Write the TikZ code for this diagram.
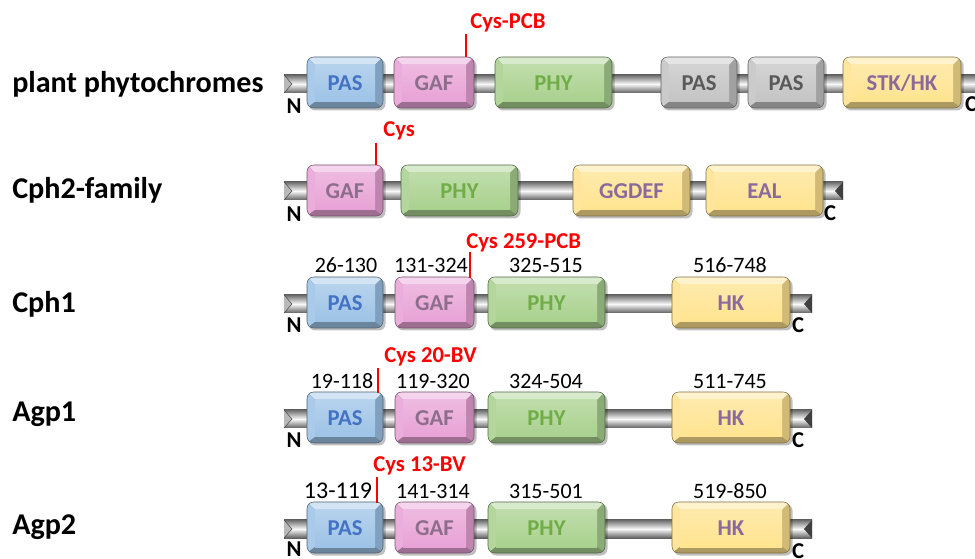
\documentclass[tikz,border=0pt]{standalone}
\usepackage{fontspec}
\setmainfont{Carlito}
\usetikzlibrary{calc}
\definecolor{pasblue}{HTML}{9DC3E6}
\definecolor{pastxt}{HTML}{4472C4}
\definecolor{gafpink}{HTML}{E8A2D6}
\definecolor{gaftxt}{HTML}{8C6E8C}
\definecolor{phygreen}{HTML}{A9D18E}
\definecolor{phytxt}{HTML}{70AD47}
\definecolor{pasgray}{HTML}{C4C4C4}
\definecolor{graytxt}{HTML}{595959}
\definecolor{hkyellow}{HTML}{FFE38F}
\definecolor{hktxt}{HTML}{8A6A9C}
\definecolor{cysred}{HTML}{FF0000}
\tikzset{
  domtext/.style={font=\bfseries\fontsize{17}{19}\selectfont, inner sep=0pt},
  rowlabel/.style={font=\bfseries\fontsize{22.6}{24}\selectfont, anchor=west, inner sep=0pt},
  numlabel/.style={font=\fontsize{16.5}{18}\selectfont, inner sep=0pt},
  cyslabel/.style={font=\bfseries\fontsize{17}{19}\selectfont, text=cysred, anchor=west, inner sep=0pt},
  endlabel/.style={font=\bfseries\fontsize{17}{19}\selectfont, inner sep=0pt},
  redline/.style={draw=cysred, line width=1.8pt}
}
% #1 name, #2 x1, #3 x2, #4 ytop, #5 colour, #6 text colour, #7 label
\newcommand\dom[7]{%
  \fill[black,opacity=0.25,rounded corners=5pt] (#2+1.5,#4+2) rectangle (#3+2.5,#4+53.5);
  \begin{scope}
    \clip[rounded corners=5pt] (#2,#4) rectangle (#3,#4+51);
    \fill[#5!62!black] (#2,#4) rectangle (#3,#4+51);
    \fill[#5!45!white] (#2,#4) -- (#3,#4) -- (#3-8,#4+8) -- (#2+8,#4+8) -- cycle;
    \fill[#5!88!white] (#2,#4) -- (#2+8,#4+8) -- (#2+8,#4+45) -- (#2,#4+51) -- cycle;
    \fill[#5!82!black] (#3,#4) -- (#3-8,#4+8) -- (#3-8,#4+45) -- (#3,#4+51) -- cycle;
    \fill[#5!68!black] (#2,#4+51) -- (#2+8,#4+45) -- (#3-8,#4+45) -- (#3,#4+51) -- cycle;
    \shade[top color=#5!75!white, bottom color=#5] (#2+8,#4+8) rectangle (#3-8,#4+45);
  \end{scope}
  \draw[#5!50!black, line width=0.4pt, rounded corners=5pt] (#2,#4) rectangle (#3,#4+51);
  \node[domtext, text=#6] (#1) at ({(#2+#3)/2},#4+26.5) {#7};
}
% #1 x0, #2 x1, #3 ycentre
\newcommand\chainbar[3]{%
  \shade[top color=gray!85!black, bottom color=gray!75!black, middle color=gray!5] (#1,#3-9) rectangle (#2,#3+9);
  \fill[gray!55] (#1,#3-9) -- (#1+8,#3) -- (#1,#3+9) -- cycle;
  \draw[gray!40!black, line width=0.3pt] (#1,#3-9) -- (#1+8,#3) -- (#1,#3+9);
  \fill[gray!50!black] (#2,#3-9) -- (#2-8,#3) -- (#2,#3+9) -- cycle;
}
\begin{document}
\begin{tikzpicture}[x=0.75pt,y=-0.75pt]
\useasboundingbox (0,0) rectangle (975,559);
\clip (0,0) rectangle (975,559);
\fill[white] (0,0) rectangle (975,559);

% ---------- row 1: plant phytochromes ----------
\node[rowlabel] (lab1) at (12,84) {plant phytochromes};
\chainbar{284}{990}{84}
\dom{r1pas}{307}{383}{57}{pasblue}{pastxt}{PAS}
\dom{r1gaf}{394}{474}{57}{gafpink}{gaftxt}{GAF}
\dom{r1phy}{495}{612}{57}{phygreen}{phytxt}{PHY}
\dom{r1pasa}{661}{737}{57}{pasgray}{graytxt}{PAS}
\dom{r1pasb}{748}{824}{57}{pasgray}{graytxt}{PAS}
\dom{r1stk}{843}{961}{57}{hkyellow}{hktxt}{STK/HK}
\node[endlabel] (n1) at (294,106) {N};
\node[endlabel] (c1) at (971,104) {C};
\coordinate (t1) at (466,34);
\draw[redline] (t1) -- (t1 |- 0,57);
\node[cyslabel] (cys1) at (470,23) {Cys-PCB};

% ---------- row 2: Cph2-family ----------
\node[rowlabel] (lab2) at (12,190) {Cph2-family};
\chainbar{284}{843}{191}
\dom{r2gaf}{307}{383}{165}{gafpink}{gaftxt}{GAF}
\dom{r2phy}{401}{518}{165}{phygreen}{phytxt}{PHY}
\dom{r2gg}{573}{690}{165}{hkyellow}{hktxt}{GGDEF}
\dom{r2eal}{706}{823}{165}{hkyellow}{hktxt}{EAL}
\node[endlabel] (n2) at (294,214) {N};
\node[endlabel] (c2) at (830,213) {C};
\coordinate (t2) at (376,143);
\draw[redline] (t2) -- (t2 |- 0,165);
\node[cyslabel] (cys2) at (383,131) {Cys};

% ---------- row 3: Cph1 ----------
\node[rowlabel] (lab3) at (12,304) {Cph1};
\chainbar{284}{812}{304}
\dom{r3pas}{307}{383}{277}{pasblue}{pastxt}{PAS}
\dom{r3gaf}{395}{474}{277}{gafpink}{gaftxt}{GAF}
\dom{r3phy}{488}{605}{277}{phygreen}{phytxt}{PHY}
\dom{r3hk}{672}{790}{277}{hkyellow}{hktxt}{HK}
\node[endlabel] (n3) at (294,325) {N};
\node[endlabel] (c3) at (798,325) {C};
\node[numlabel] (q31) at (346,265) {26-130};
\node[numlabel] (q32) at (431,265) {131-324};
\node[numlabel] (q33) at (546,265) {325-515};
\node[numlabel] (q34) at (730,265) {516-748};
\coordinate (t3) at (470,252);
\draw[redline] (t3) -- (t3 |- 0,278);
\node[cyslabel] (cys3) at (466,243) {Cys 259-PCB};

% ---------- row 4: Agp1 ----------
\node[rowlabel] (lab4) at (12,414) {Agp1};
\chainbar{284}{812}{419}
\dom{r4pas}{307}{383}{392}{pasblue}{pastxt}{PAS}
\dom{r4gaf}{395}{474}{392}{gafpink}{gaftxt}{GAF}
\dom{r4phy}{488}{605}{392}{phygreen}{phytxt}{PHY}
\dom{r4hk}{672}{790}{392}{hkyellow}{hktxt}{HK}
\node[endlabel] (n4) at (294,440) {N};
\node[endlabel] (c4) at (798,440) {C};
\node[numlabel] (q41) at (342,381) {19-118};
\node[numlabel] (q42) at (433,381) {119-320};
\node[numlabel] (q43) at (546,381) {324-504};
\node[numlabel] (q44) at (730,381) {511-745};
\coordinate (t4) at (378,368);
\draw[redline] (t4) -- (t4 |- 0,393);
\node[cyslabel] (cys4) at (384,357) {Cys 20-BV};

% ---------- row 5: Agp2 ----------
\node[rowlabel] (lab5) at (12,527) {Agp2};
\chainbar{284}{812}{529}
\dom{r5pas}{307}{383}{502}{pasblue}{pastxt}{PAS}
\dom{r5gaf}{395}{474}{502}{gafpink}{gaftxt}{GAF}
\dom{r5phy}{488}{605}{502}{phygreen}{phytxt}{PHY}
\dom{r5hk}{672}{790}{502}{hkyellow}{hktxt}{HK}
\node[endlabel] (n5) at (294,549) {N};
\node[endlabel] (c5) at (798,551) {C};
\node[numlabel, font=\fontsize{18}{20}\selectfont] (q51) at (338,491) {13-119};
\node[numlabel] (q52) at (433,491) {141-314};
\node[numlabel] (q53) at (546,491) {315-501};
\node[numlabel] (q54) at (730,491) {519-850};
\coordinate (t5) at (377,477);
\draw[redline] (t5) -- (t5 |- 0,503);
\node[cyslabel] (cys5) at (373,466) {Cys 13-BV};
\end{tikzpicture}
\end{document}
